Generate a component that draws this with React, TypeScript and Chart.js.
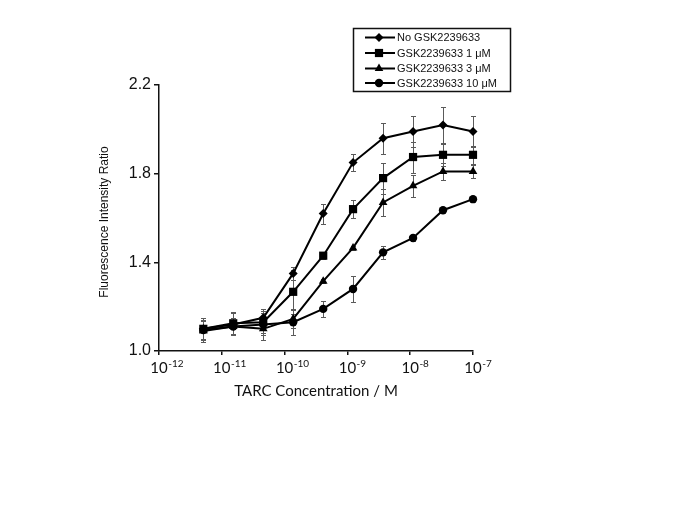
import React, { useEffect, useRef } from 'react';
import { Chart, registerables } from 'chart.js';
import { drawPoint } from 'chart.js/helpers';

Chart.register(...registerables);

// TARC concentrations (M), 3-fold dilution series
const concentrations = [5.08e-12, 1.52e-11, 4.57e-11, 1.37e-10, 4.12e-10, 1.23e-9, 3.7e-9, 1.11e-8, 3.33e-8, 1.0e-7];

const seriesLabels = ['No GSK2239633', 'GSK2239633 1 μM', 'GSK2239633 3 μM', 'GSK2239633 10 μM'];
const pointStyles = ['rectRot', 'rect', 'triangle', 'circle'];
const pointRadii = [4.5, 5.8, 5, 4.2];

const noGsk = [1.1, 1.12, 1.15, 1.35, 1.62, 1.85, 1.96, 1.99, 2.02, 1.99];
const gsk1 = [1.1, 1.125, 1.13, 1.267, 1.43, 1.64, 1.78, 1.875, 1.885, 1.885];
const gsk3 = [1.09, 1.11, 1.1, 1.145, 1.315, 1.465, 1.67, 1.745, 1.81, 1.81];
const gsk10 = [1.095, 1.11, 1.12, 1.13, 1.19, 1.28, 1.445, 1.51, 1.635, 1.685];

const noGskErr = [0.05, 0.05, 0.04, 0.03, 0.045, 0.04, 0.07, 0.07, 0.08, 0.07];
const gsk1Err = [0.05, 0.05, 0.05, 0.1, 0.015, 0.04, 0.07, 0.07, 0.05, 0.04];
const gsk3Err = [0.05, 0.04, 0.05, 0.04, 0.01, 0.01, 0.06, 0.05, 0.04, 0.03];
const gsk10Err = [0.04, 0.04, 0.05, 0.06, 0.035, 0.06, 0.03, 0.015, 0.01, 0.01];

const seriesValues = [noGsk, gsk1, gsk3, gsk10];
const seriesErrors = [noGskErr, gsk1Err, gsk3Err, gsk10Err];

const xTickValues = [1e-12, 1e-11, 1e-10, 1e-9, 1e-8, 1e-7];
const xTickExponents = ['-12', '-11', '-10', '-9', '-8', '-7'];
const yMin = 1.0;
const yMax = 2.2;
const yStep = 0.4;

const xTitle = 'TARC Concentration / M';
const yTitle = 'Fluorescence Intensity Ratio';

const ARIAL = '"Liberation Sans", Arial, sans-serif';
const CALIBRI = 'Lato, "Open Sans", sans-serif';

const W = 669;
const H = 497;

const errorBarPlugin = {
  id: 'errorBars',
  beforeDatasetsDraw(chart: any) {
    const { ctx, scales } = chart;
    const x = scales.x;
    const y = scales.y;
    ctx.save();
    ctx.strokeStyle = '#5a5a5a';
    ctx.lineWidth = 1;
    seriesValues.forEach((vals, i) => {
      const errs = seriesErrors[i];
      vals.forEach((v, j) => {
        const px = Math.round(x.getPixelForValue(concentrations[j])) + 0.5;
        const yt = Math.round(y.getPixelForValue(v + errs[j])) + 0.5;
        const yb = Math.round(y.getPixelForValue(v - errs[j])) + 0.5;
        ctx.beginPath();
        ctx.moveTo(px, yt);
        ctx.lineTo(px, yb);
        ctx.moveTo(px - 2.5, yt);
        ctx.lineTo(px + 2.5, yt);
        ctx.moveTo(px - 2.5, yb);
        ctx.lineTo(px + 2.5, yb);
        ctx.stroke();
      });
    });
    ctx.restore();
  },
};

const textPlugin = {
  id: 'customText',
  afterDraw(chart: any) {
    const { ctx, scales, chartArea } = chart;
    const x = scales.x;
    ctx.save();
    ctx.fillStyle = '#111';
    // x tick labels with superscripts
    ctx.textBaseline = 'alphabetic';
    xTickValues.forEach((v, i) => {
      const px = x.getPixelForValue(v);
      ctx.font = '15px ' + CALIBRI;
      ctx.textAlign = 'center';
      ctx.fillText('10', px, 365);
      const w = ctx.measureText('10').width;
      ctx.font = '10px ' + CALIBRI;
      ctx.textAlign = 'left';
      ctx.fillText(xTickExponents[i], px + w / 2 + 0.5, 359);
    });
    // x title
    ctx.font = '15px ' + CALIBRI;
    ctx.textAlign = 'center';
    ctx.fillText(xTitle, (chartArea.left + chartArea.right) / 2, 388);
    // y title
    ctx.save();
    ctx.translate(97, 214);
    ctx.rotate(-Math.PI / 2);
    ctx.font = '12px ' + ARIAL;
    ctx.textAlign = 'center';
    ctx.textBaseline = 'middle';
    ctx.fillText(yTitle, 0, 0);
    ctx.restore();

    // legend
    const bx = 345.5, by = 20.5, bw = 157, bh = 63;
    ctx.strokeStyle = '#111';
    ctx.lineWidth = 1.5;
    ctx.strokeRect(bx, by, bw, bh);
    const rows = [29.5, 45, 60.5, 75];
    seriesLabels.forEach((lab, i) => {
      const ry = rows[i];
      ctx.strokeStyle = '#000';
      ctx.lineWidth = 2;
      ctx.beginPath();
      ctx.moveTo(357, ry);
      ctx.lineTo(387, ry);
      ctx.stroke();
      ctx.fillStyle = '#000';
      drawPoint(ctx, { pointStyle: pointStyles[i], radius: pointRadii[i], rotation: 0, borderWidth: 0 } as any, 371, ry);
      ctx.fillStyle = '#111';
      ctx.font = '11px ' + ARIAL;
      ctx.textAlign = 'left';
      ctx.textBaseline = 'middle';
      ctx.fillText(lab, 389, ry + 0.5);
    });
    ctx.restore();
  },
};

export default function App() {
  const ref = useRef<HTMLCanvasElement | null>(null);
  useEffect(() => {
    if (!ref.current) return;
    const datasets = seriesValues.map((vals, i) => ({
      label: seriesLabels[i],
      data: vals.map((v, j) => ({ x: concentrations[j], y: v })),
      borderColor: '#000',
      backgroundColor: '#000',
      borderWidth: 2,
      pointStyle: pointStyles[i],
      pointRadius: pointRadii[i],
      pointBorderWidth: 0,
      pointBackgroundColor: '#000',
      tension: 0,
      clip: false,
    }));
    const chart = new Chart(ref.current, {
      type: 'line',
      data: { datasets },
      options: {
        responsive: false,
        animation: false,
        devicePixelRatio: 1,
        layout: { padding: { left: 0, right: 204, top: 77, bottom: 0 } },
        plugins: { legend: { display: false }, tooltip: { enabled: false } },
        scales: {
          x: {
            type: 'logarithmic',
            min: 1e-12,
            max: 1e-7,
            afterBuildTicks: (scale: any) => {
              scale.ticks = xTickValues.map((v) => ({ value: v }));
            },
            afterFit: (scale: any) => {
              scale.height = 154;
            },
            ticks: { callback: () => '', autoSkip: false, maxRotation: 0 },
            grid: { drawOnChartArea: false, drawTicks: true, tickLength: 4, color: '#111', lineWidth: 1.5 },
            border: { display: true, color: '#111', width: 1.5 },
          },
          y: {
            type: 'linear',
            min: yMin,
            max: yMax,
            afterFit: (scale: any) => {
              scale.width = 151;
            },
            ticks: {
              stepSize: yStep,
              padding: 3,
              color: '#111',
              font: { family: ARIAL, size: 16 },
              callback: (v: any) => Number(v).toFixed(1),
            },
            grid: { drawOnChartArea: false, drawTicks: true, tickLength: 5, color: '#111', lineWidth: 1.5 },
            border: { display: true, color: '#111', width: 1.5 },
          },
        },
      },
      plugins: [errorBarPlugin, textPlugin],
    } as any);
    return () => chart.destroy();
  }, []);
  return (
    <div style={{ width: W, height: H }}>
      <canvas ref={ref} width={W} height={H} style={{ display: 'block' }} />
    </div>
  );
}
